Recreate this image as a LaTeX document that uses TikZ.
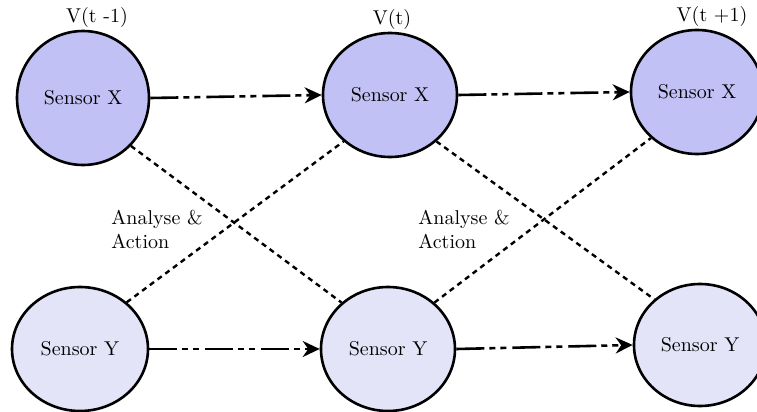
\documentclass[tikz,border=0pt]{standalone}
\usetikzlibrary{shapes.geometric,arrows.meta}
\definecolor{sensorx}{RGB}{193,193,245}
\definecolor{sensory}{RGB}{228,228,248}
\begin{document}
\begin{tikzpicture}[x=0.5pt,y=-0.5pt,
  sensor/.style={ellipse,draw=black,line width=1.3pt,inner sep=0pt,font=\normalsize},
  sx/.style={sensor,fill=sensorx},
  sy/.style={sensor,fill=sensory},
  flow/.style={line width=1.3pt,
    dash pattern=on 14pt off 2.5pt on 3pt off 2.5pt on 3pt off 3pt,
    -{Stealth[length=8.5pt,width=8pt]}},
  link/.style={line width=1.2pt,dash pattern=on 2.6pt off 2.2pt},
  tlabel/.style={font=\normalsize,inner sep=0pt},
  note/.style={align=left,font=\normalsize,inner sep=0pt,anchor=west}]
\useasboundingbox (0,0) rectangle (757,412);
\clip (0,0) rectangle (757,412);

% sensor states at three time steps
\node[sx,minimum width=66pt,minimum height=67pt] (x1) at (83,98) {Sensor X};
\node[sx,minimum width=67pt,minimum height=62pt] (x2) at (390,95) {Sensor X};
\node[sx,minimum width=66pt,minimum height=62pt] (x3) at (697,92) {Sensor X};
\node[sy,minimum width=68pt,minimum height=62pt] (y1) at (80,349) {Sensor Y};
\node[sy,minimum width=67pt,minimum height=62pt] (y2) at (388,349) {Sensor Y};
\node[sy,minimum width=66pt,minimum height=61pt] (y3) at (700,345) {Sensor Y};

% time step labels
\node[tlabel] (v1) at (97,18) {V(t -1)};
\node[tlabel] (v2) at (392,20) {V(t)};
\node[tlabel] (v3) at (712,17) {V(t +1)};

% analysis notes
\node[note] (a1) at (111,229) {Analyse \&\\Action};
\node[note] (a2) at (418,229) {Analyse \&\\Action};

% transitions in time
\draw[flow] (x1.east) -- (x2.west);
\draw[flow] (x2.east) -- (x3.west);
\draw[flow] (y1.east) -- (y2.west);
\draw[flow] (y2.east) -- (y3.west);

% cross links between sensors
\draw[link] (x1.-45) -- (y2.135);
\draw[link] (y1.45) -- (x2.-135);
\draw[link] (x2.-45) -- (y3.135);
\draw[link] (y2.45) -- (x3.-135);
\end{tikzpicture}
\end{document}
